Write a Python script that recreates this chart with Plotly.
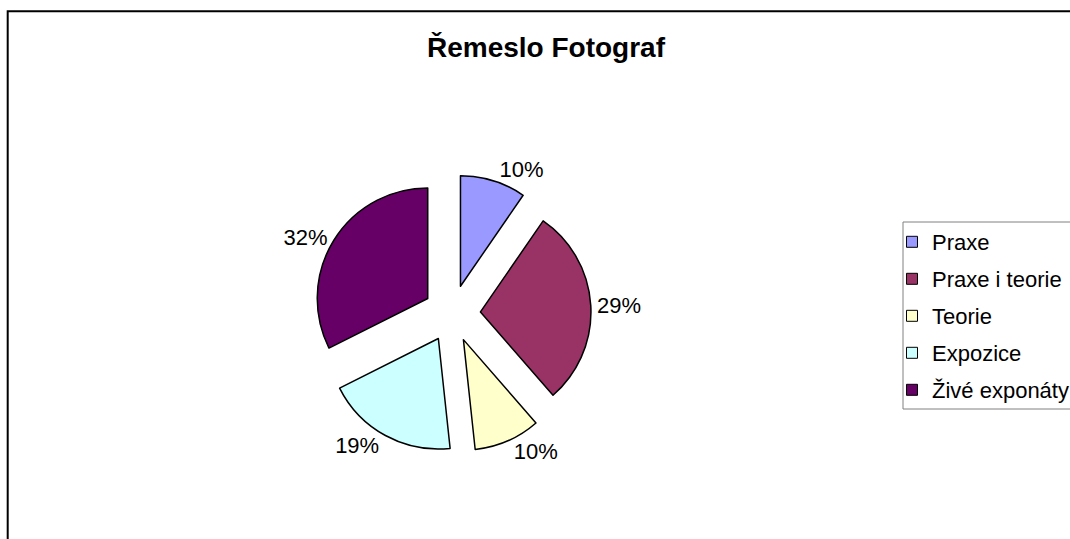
import plotly.graph_objects as go

# Data
categories = ["Praxe", "Praxe i teorie", "Teorie", "Expozice", "Živé exponáty"]
values = [9.6, 29.0, 9.7, 19.3, 32.4]
colors = ["#9999FF", "#993366", "#FFFFCC", "#CCFFFF", "#660066"]
title_text = "Řemeslo Fotograf"

W, H = 1070, 539
FONT = "Liberation Sans, Arial, sans-serif"

# pie geometry (pixels)
cx, cy = 452, 313.5
half = 139

fig = go.Figure()
fig.add_trace(go.Pie(
    labels=categories,
    values=values,
    marker=dict(colors=colors, line=dict(color="black", width=1.5)),
    sort=False,
    direction="clockwise",
    rotation=0,
    pull=0.258,
    textposition="outside",
    texttemplate="%{percent:.0%}",
    textfont=dict(family=FONT, size=22, color="black"),
    domain=dict(x=[(cx - half) / W, (cx + half) / W],
                y=[(H - cy - half) / H, (H - cy + half) / H]),
    showlegend=False,
    hoverinfo="label+percent",
))

# legend entries (one group per category so the rows get the reference spacing)
for name, col in zip(categories, colors):
    fig.add_trace(go.Scatter(
        x=[None], y=[None], mode="markers", name=name, legendgroup=name,
        marker=dict(symbol="square", size=11, color=col,
                    line=dict(color="black", width=1)),
        hoverinfo="skip",
    ))

fig.update_layout(
    width=W, height=H,
    margin=dict(l=0, r=0, t=0, b=0, autoexpand=False),
    paper_bgcolor="white",
    plot_bgcolor="white",
    font=dict(family=FONT, color="black"),
    xaxis=dict(visible=False),
    yaxis=dict(visible=False),
    title=dict(text="<b>" + title_text + "</b>", x=546 / W, xanchor="center",
               y=1 - 47 / H, yanchor="middle", yref="container",
               font=dict(family=FONT, size=28, color="black")),
    legend=dict(x=892 / W, xanchor="left", y=1 - 221 / H, yanchor="top",
                borderwidth=0, bgcolor="rgba(0,0,0,0)",
                tracegroupgap=5.4, traceorder="grouped",
                font=dict(family=FONT, size=22, color="black")),
    shapes=[
        # outer chart border (continues past the right and bottom edges)
        dict(type="rect", xref="paper", yref="paper",
             x0=7.7 / W, x1=1.05, y0=-0.05, y1=1 - 11.3 / H,
             line=dict(color="black", width=2), layer="below"),
        # legend frame
        dict(type="rect", xref="paper", yref="paper",
             x0=903 / W, x1=1.05, y0=1 - 409 / H, y1=1 - 222 / H,
             line=dict(color="#808080", width=1), fillcolor="white",
             layer="below"),
    ],
)

fig.write_html(
    "out.html",
    config={"displayModeBar": False},
    post_script="document.body.style.margin='0';document.body.style.overflow='hidden';",
)
